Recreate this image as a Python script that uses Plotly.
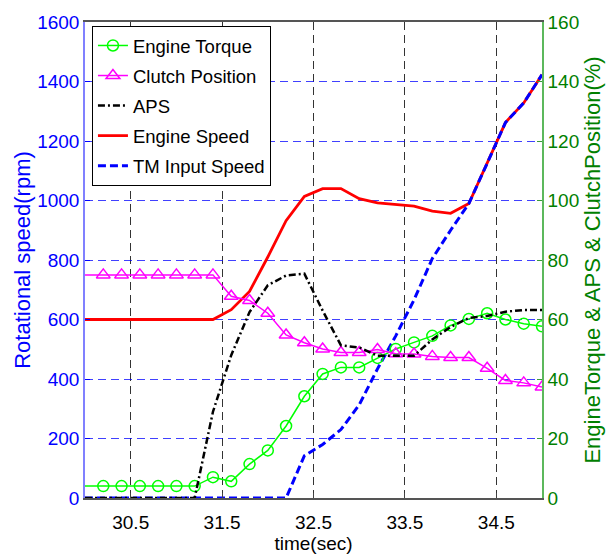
import plotly.graph_objects as go

# ---- data ----
t_marker = [29.8, 30.2, 30.4, 30.6, 30.8, 31.0, 31.2, 31.4, 31.6, 31.8, 32.0, 32.2, 32.4,
            32.6, 32.8, 33.0, 33.2, 33.4, 33.6, 33.8, 34.0, 34.2, 34.4, 34.6, 34.8, 35.0]
engine_torque = [4, 4, 4, 4, 4, 4, 4, 7, 5.6, 11.4, 16, 24.2, 34.2,
                 41.7, 43.9, 43.9, 47.1, 50.1, 52.3, 54.5, 58, 60.2, 62.1, 60, 58.6, 57.7]
clutch_position = [75, 75, 75, 75, 75, 75, 75, 75, 67.8, 66.4, 62.1, 54.8, 52.2,
                   50.1, 48.9, 48.9, 49.9, 48.5, 48.4, 47.6, 47.2, 47.2, 43.6, 39.5, 38.7, 37.3]

t_aps = [30.0, 31.2, 31.4, 31.6, 31.8, 32.0, 32.2, 32.4, 32.6, 32.8, 33.0, 33.2, 33.4,
         33.6, 33.8, 34.0, 34.2, 34.4, 34.6, 34.8, 35.0]
aps = [0, 0, 29, 48, 62.5, 71.5, 74.8, 75.4, 63, 51.3, 50.6, 47.8, 47.8,
       47.8, 53.3, 57.5, 60.5, 61.2, 62.6, 63.2, 63.2]

t_speed = [30.0, 31.4, 31.6, 31.8, 32.0, 32.2, 32.4, 32.6, 32.8, 33.0, 33.2, 33.4,
           33.6, 33.8, 34.0, 34.2, 34.4, 34.6, 34.8, 35.0]
engine_speed = [600, 600, 633, 694, 810, 932, 1014, 1040, 1040, 1006, 992, 986,
                981, 964, 957, 990, 1125, 1262, 1328, 1423]

t_tm = [30.0, 32.2, 32.4, 32.6, 32.8, 33.0, 33.2, 33.4, 33.6, 33.8, 34.0, 34.2,
        34.4, 34.6, 34.8, 35.0]
tm_input_speed = [0, 0, 142, 180, 230, 313, 434, 545, 666, 805, 900, 990,
                  1125, 1262, 1328, 1423]

x_ticks = [30.5, 31.5, 32.5, 33.5, 34.5]
x_tick_labels = ["30.5", "31.5", "32.5", "33.5", "34.5"]
y_left_ticks = [0, 200, 400, 600, 800, 1000, 1200, 1400, 1600]
y_right_ticks = [0, 20, 40, 60, 80, 100, 120, 140, 160]

FONT = "Liberation Sans, Arial, sans-serif"

fig = go.Figure()

fig.add_trace(go.Scatter(
    x=t_marker, y=engine_torque, name="Engine Torque", yaxis="y2",
    mode="lines+markers", legendgroup="a",
    line=dict(color="#00ff00", width=1.5),
    marker=dict(symbol="circle-open", size=11, color="#00ff00", line=dict(width=1.5)),
))
fig.add_trace(go.Scatter(
    x=t_marker, y=clutch_position, name="Clutch Position", yaxis="y2",
    mode="lines+markers", legendgroup="b",
    line=dict(color="#ff00ff", width=1.5),
    marker=dict(symbol="triangle-up-open", size=12, color="#ff00ff", line=dict(width=1.5)),
))
fig.add_trace(go.Scatter(
    x=t_aps, y=aps, name="APS", yaxis="y2", mode="lines", legendgroup="c",
    line=dict(color="black", width=2.5, dash="7px,3px,2px,3px"),
))
fig.add_trace(go.Scatter(
    x=t_speed, y=engine_speed, name="Engine Speed", mode="lines", legendgroup="d",
    line=dict(color="#ff0000", width=2.8),
))
fig.add_trace(go.Scatter(
    x=t_tm, y=tm_input_speed, name="TM Input Speed", mode="lines", legendgroup="e",
    line=dict(color="#0000ff", width=3, dash="8px,4px"),
))

fig.update_layout(
    width=613, height=560,
    margin=dict(l=85, r=68, t=17, b=59),
    paper_bgcolor="white", plot_bgcolor="white",
    font=dict(family=FONT, size=19, color="black"),
    showlegend=True,
    legend=dict(
        x=0.0152, y=0.9917, xanchor="left", yanchor="top",
        bgcolor="white", bordercolor="black", borderwidth=1,
        font=dict(family=FONT, size=18.5, color="black"),
        tracegroupgap=3,
    ),
    xaxis=dict(
        range=[30, 35], tickvals=x_ticks, ticktext=x_tick_labels,
        showgrid=True, gridcolor="#333333", griddash="8px,5px", gridwidth=1,
        ticks="inside", ticklen=5, tickcolor="#444444",
        showline=True, linecolor="#555555", linewidth=1.5, mirror=True,
        zeroline=False, ticklabelstandoff=6,
        tickfont=dict(size=19, color="black"),
        title=dict(text="time(sec)", font=dict(size=19, color="black"), standoff=2),
    ),
    yaxis=dict(
        range=[0, 1600], tickvals=y_left_ticks,
        showgrid=True, gridcolor="rgba(0,0,255,0.75)", griddash="8px,5px", gridwidth=1,
        ticks="inside", ticklen=5, tickcolor="#0000ff",
        showline=True, linecolor="#8080ff", linewidth=1.5,
        zeroline=False,
        tickfont=dict(size=19, color="#0000ff"),
        title=dict(text="Rotational speed(rpm)", font=dict(size=22, color="#0000ff"), standoff=0),
    ),
    yaxis2=dict(
        range=[0, 160], tickvals=y_right_ticks, overlaying="y", side="right",
        showgrid=False, zeroline=False,
        ticks="inside", ticklen=5, tickcolor="#3a9a3a",
        showline=True, linecolor="#5cb85c", linewidth=1.5,
        tickfont=dict(size=19, color="#008000"),
        title=dict(text="EngineTorque & APS & ClutchPosition(%)", font=dict(size=22, color="#008000"), standoff=6),
    ),
)

fig.write_html("out.html")
